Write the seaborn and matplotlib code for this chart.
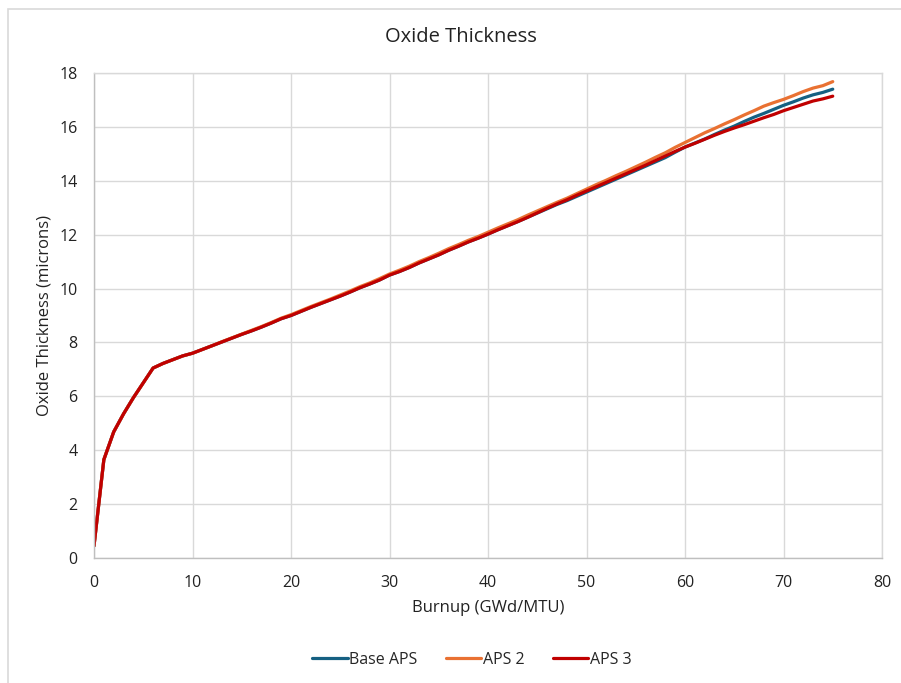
import pandas as pd
import seaborn as sns
import matplotlib.pyplot as plt
from matplotlib.patches import Rectangle

# Burnup points (GWd/MTU)
burnup = [0, 1, 2, 3, 4, 5, 6, 7, 8, 9,
          10, 11, 12, 13, 14, 15, 16, 17, 18, 19,
          20, 21, 22, 23, 24, 25, 26, 27, 28, 29,
          30, 31, 32, 33, 34, 35, 36, 37, 38, 39,
          40, 41, 42, 43, 44, 45, 46, 47, 48, 49,
          50, 51, 52, 53, 54, 55, 56, 57, 58, 59,
          60, 61, 62, 63, 64, 65, 66, 67, 68, 69,
          70, 71, 72, 73, 74, 75]

# Oxide thickness (microns)
base_aps = [0.45, 3.65, 4.68, 5.35, 5.95, 6.50, 7.05, 7.22, 7.36, 7.50,
            7.60, 7.74, 7.88, 8.02, 8.16, 8.30, 8.43, 8.57, 8.72, 8.88,
            9.00, 9.15, 9.30, 9.44, 9.58, 9.72, 9.87, 10.03, 10.17, 10.32,
            10.50, 10.63, 10.78, 10.95, 11.10, 11.25, 11.42, 11.57, 11.73, 11.87,
            12.02, 12.18, 12.33, 12.48, 12.64, 12.80, 12.96, 13.12, 13.26, 13.42,
            13.58, 13.74, 13.90, 14.06, 14.22, 14.38, 14.54, 14.70, 14.86, 15.06,
            15.25, 15.40, 15.55, 15.72, 15.88, 16.03, 16.20, 16.36, 16.50, 16.65,
            16.80, 16.93, 17.07, 17.19, 17.28, 17.40]

aps_2 = [0.45, 3.65, 4.68, 5.35, 5.95, 6.50, 7.05, 7.22, 7.36, 7.50,
         7.60, 7.74, 7.88, 8.03, 8.17, 8.31, 8.45, 8.59, 8.74, 8.90,
         9.03, 9.18, 9.33, 9.47, 9.61, 9.76, 9.91, 10.07, 10.21, 10.37,
         10.54, 10.68, 10.83, 11.00, 11.15, 11.31, 11.48, 11.63, 11.79, 11.93,
         12.09, 12.25, 12.40, 12.55, 12.72, 12.88, 13.04, 13.20, 13.35, 13.52,
         13.69, 13.86, 14.02, 14.19, 14.35, 14.52, 14.69, 14.87, 15.04, 15.24,
         15.42, 15.60, 15.78, 15.94, 16.11, 16.27, 16.44, 16.60, 16.77, 16.90,
         17.02, 17.16, 17.31, 17.44, 17.53, 17.68]

aps_3 = [0.45, 3.65, 4.68, 5.35, 5.95, 6.50, 7.05, 7.22, 7.36, 7.50,
         7.60, 7.74, 7.88, 8.02, 8.16, 8.30, 8.43, 8.57, 8.72, 8.88,
         9.00, 9.15, 9.30, 9.44, 9.58, 9.72, 9.87, 10.03, 10.17, 10.32,
         10.50, 10.63, 10.78, 10.95, 11.10, 11.25, 11.42, 11.57, 11.73, 11.87,
         12.02, 12.18, 12.33, 12.48, 12.64, 12.81, 12.98, 13.14, 13.29, 13.46,
         13.62, 13.78, 13.94, 14.10, 14.26, 14.42, 14.58, 14.75, 14.92, 15.09,
         15.25, 15.39, 15.54, 15.69, 15.83, 15.96, 16.08, 16.21, 16.34, 16.46,
         16.60, 16.72, 16.84, 16.96, 17.04, 17.14]

series_names = ['Base APS', 'APS 2', 'APS 3']
colors = ['#156082', '#E97132', '#C00000']

df = pd.DataFrame({
    'Burnup': burnup * 3,
    'Oxide': base_aps + aps_2 + aps_3,
    'Series': [series_names[0]] * len(burnup) + [series_names[1]] * len(burnup)
              + [series_names[2]] * len(burnup),
})

sns.set_theme(style='white')
plt.rcParams['font.family'] = ['Open Sans', 'DejaVu Sans']

fig = plt.figure(figsize=(9.01, 6.83), dpi=100)
ax = fig.add_axes([94 / 901, 1 - 558 / 683, (882 - 94) / 901, (558 - 73) / 683])

sns.lineplot(data=df, x='Burnup', y='Oxide', hue='Series', palette=colors,
             linewidth=2.3, ax=ax, legend=False, sort=False)

ax.set_xlim(0, 80)
ax.set_ylim(0, 18)
ax.set_xticks(range(0, 81, 10))
ax.set_yticks(range(0, 19, 2))
ax.grid(True, color='#D9D9D9', linewidth=1)
ax.set_axisbelow(True)
for side in ['top', 'right']:
    ax.spines[side].set_color('#D9D9D9')
for side in ['left', 'bottom']:
    ax.spines[side].set_color('#BFBFBF')
for s in ax.spines.values():
    s.set_linewidth(1)
ax.tick_params(axis='both', length=0, labelsize=11.5, colors='#222222')
ax.tick_params(axis='x', pad=12)
ax.tick_params(axis='y', pad=12)
ax.set_xlabel('Burnup (GWd/MTU)', fontsize=12, color='#222222', labelpad=7)
ax.set_ylabel('Oxide Thickness (microns)', fontsize=12, color='#222222', labelpad=5)

fig.text(461 / 901, 1 - 37 / 683, 'Oxide Thickness', ha='center', va='center',
         fontsize=14.5, color='#222222')

handles = [plt.Line2D([], [], color=c, linewidth=2.3) for c in colors]
fig.legend(handles, series_names, loc='center', ncol=3, frameon=False,
           bbox_to_anchor=(472 / 901, 1 - 660 / 683), fontsize=11.5,
           handlelength=2.2, handletextpad=0.1, columnspacing=1.8)

# chart area border
fig.patches.append(Rectangle((8 / 901, -0.05), 1.1, 1 - 9 / 683 + 0.05,
                             transform=fig.transFigure, fill=False,
                             edgecolor='#D9D9D9', linewidth=1.2))

fig.savefig('out.png', dpi=100)
